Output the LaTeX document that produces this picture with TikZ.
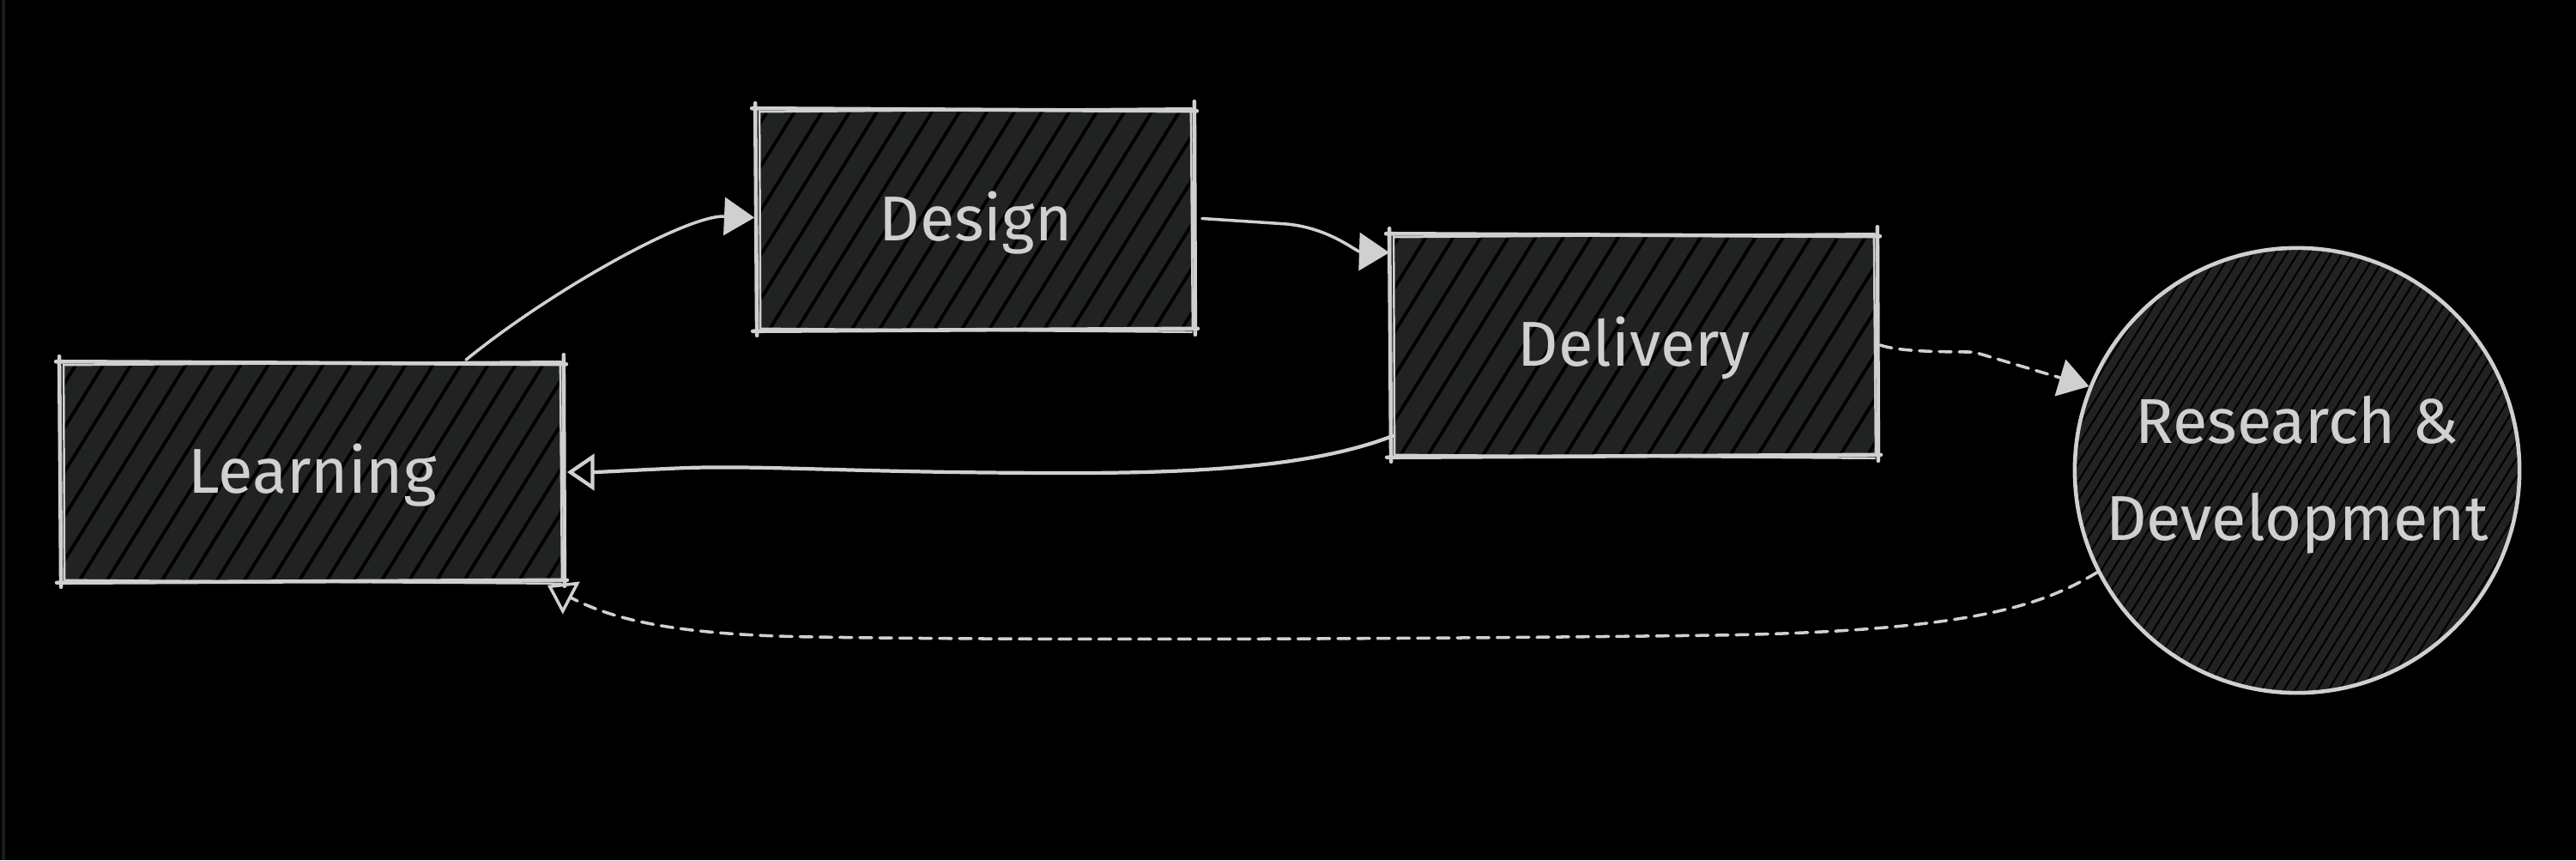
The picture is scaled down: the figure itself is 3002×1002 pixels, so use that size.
\documentclass[tikz,border=0pt]{standalone}
\usepackage{fontspec}
\setmainfont{Fira Sans}
\usetikzlibrary{arrows.meta,calc}
\definecolor{fillc}{RGB}{33,35,35}
\definecolor{strk}{RGB}{208,208,208}
\definecolor{stripc}{RGB}{28,28,28}
\newcommand\skbox[1]{%
 \draw[sk] ($(#1.north west)+(-7,1)$) -- ($(#1.north east)+(4,4)$);
 \draw[sk,line width=0.7pt] ($(#1.north west)+(3,5)$) -- ($(#1.north east)+(-2,1)$);
 \draw[sk] ($(#1.north east)+(1,-7)$) -- ($(#1.south east)+(2,6)$);
 \draw[sk,line width=0.7pt] ($(#1.north east)+(-3,3)$) -- ($(#1.south east)+(-1,-3)$);
 \draw[sk] ($(#1.south east)+(5,-1)$) -- ($(#1.south west)+(-6,2)$);
 \draw[sk,line width=0.7pt] ($(#1.south east)+(-2,3)$) -- ($(#1.south west)+(3,-1)$);
 \draw[sk] ($(#1.south west)+(-1,7)$) -- ($(#1.north west)+(-3,-5)$);
 \draw[sk,line width=0.7pt] ($(#1.south west)+(3,-2)$) -- ($(#1.north west)+(2,4)$);
}
\begin{document}
\begin{tikzpicture}[x=0.01cm,y=-0.01cm,
  sk/.style={draw=strk,line width=1.3pt,line cap=round},
  lbl/.style={text=strk,font=\fontsize{21pt}{32pt}\selectfont},
  hbox/.style={rectangle,fill=fillc,inner sep=0pt,lbl,text height=14.5pt,text depth=0pt,
    path picture={\foreach \k in {-32,...,32}{
      \draw[black,line width=1.1pt] ([xshift=\k*0.32cm]path picture bounding box.center) ++(-1.8cm,-2.9cm) -- ++(3.6cm,5.8cm);}}},
  hcirc/.style={circle,fill=fillc,inner sep=0pt,draw=strk,line width=1.3pt,
    path picture={\foreach \k in {-70,...,70}{
      \draw[black,line width=0.6pt] ([xshift=\k*0.13cm]path picture bounding box.center) ++(-1.8cm,-2.9cm) -- ++(3.6cm,5.8cm);}}},
  conn/.style={draw=strk,line width=1pt,line cap=round},
  dsh/.style={conn,dash pattern=on 4pt off 2.6pt},
  solidtip/.style={-{Triangle[length=10pt,width=12.5pt]}},
  opentip/.style={-{Triangle[open,length=9pt,width=12pt]}}
]
\useasboundingbox (0,0) rectangle (3002,1002);
\fill[black] (0,0) rectangle (3002,1002);
\fill[stripc] (2,0) rectangle (6,1002);

\node[hbox,minimum width=5.82cm,minimum height=2.55cm] (learn) at (364,548.5) {Learning};
\node[hbox,minimum width=5.06cm,minimum height=2.57cm] (des) at (1137,254.5) {Design};
\node[hbox,minimum width=5.63cm,minimum height=2.58cm] (del) at (1904.5,401) {Delivery};
\node[hcirc,minimum size=5.18cm] (rd) at (2677,548) {};
\node[lbl,align=center,inner sep=0pt] (rdtext) at ($(rd.center)+(0,5)$) {Research \&\\Development};

\skbox{learn}
\skbox{des}
\skbox{del}

% Learning -> Design
\draw[conn,solidtip] ($(learn.north)+(179,-1)$) .. controls (640,340) and (800,250) .. ($(des.west)+(-4,-1)$);
% Design -> Delivery
\draw[conn,solidtip] ($(des.east)+(10,0)$) -- (1500,261) .. controls (1550,266) and (1580,293) .. ($(del.north west)+(-3,23)$);
% Delivery -> Learning
\draw[conn,line width=1.2pt,opentip] ($(del.south west)+(1,-23)$) .. controls (1540,540) and (1420,551) .. (1250,551) .. controls (1000,551) and (900,542) .. (800,545) .. controls (730,548) and (700,550) .. ($(learn.east)+(5,1.5)$);
% Delivery -> R&D (dashed)
\draw[dsh,solidtip] ($(del.east)+(4,1)$) .. controls (2210,408) and (2240,410) .. (2300,410) -- (rd.158.5);
% R&D -> Learning (dashed)
\draw[dsh,opentip] (rd.207) .. controls (2380,705) and (2300,735) .. (2000,740) .. controls (1600,745) and (1200,746) .. (950,742) .. controls (800,740) and (720,725) .. ($(learn.south east)+(-18,5)$);
\end{tikzpicture}
\end{document}
